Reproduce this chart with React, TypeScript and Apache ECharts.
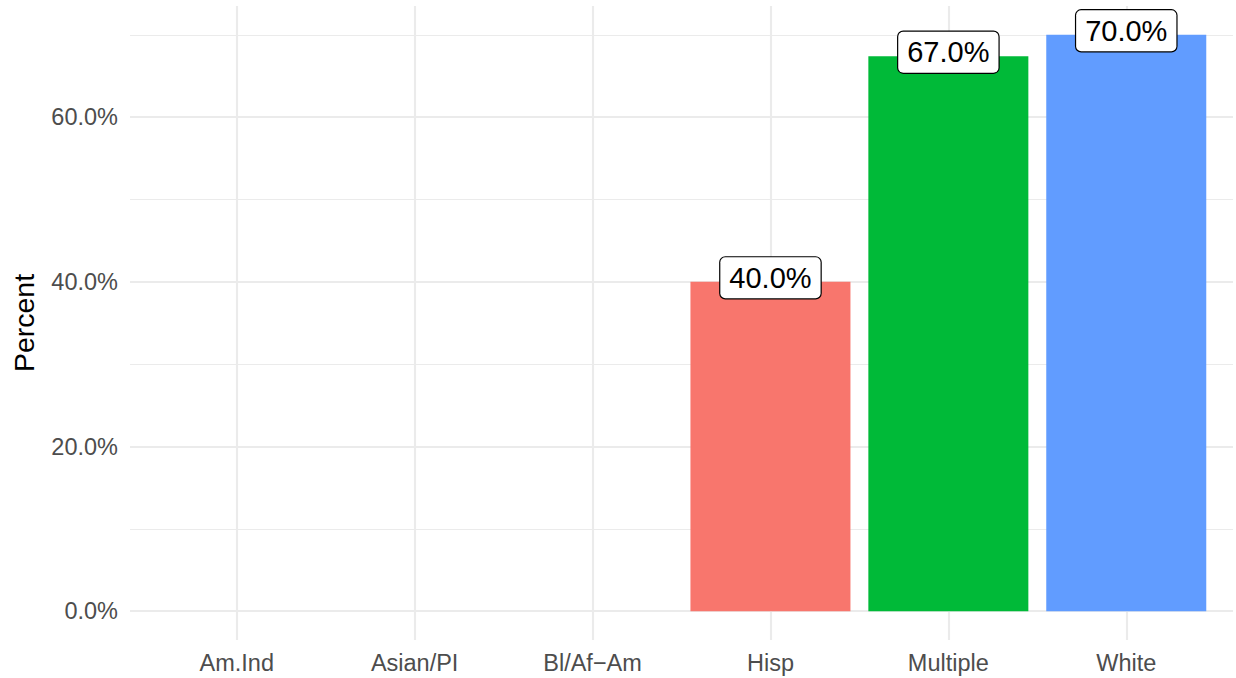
import React, { useEffect, useRef } from "react";
import * as echarts from "echarts";

const categories = ["Am.Ind", "Asian/PI", "Bl/Af\u2212Am", "Hisp", "Multiple", "White"];
const values: (number | null)[] = [null, null, null, 40, 67.4, 70];
const labelTexts = ["", "", "", "40.0%", "67.0%", "70.0%"];
const barColors = ["#F8766D", "#F8766D", "#F8766D", "#F8766D", "#00BA38", "#619CFF"];
const yTicks = [0, 20, 40, 60];
const yMinorTicks = [10, 30, 50, 70];

const FONT = "Liberation Sans, Arial, Helvetica, sans-serif";

export default function App() {
  const ref = useRef<HTMLDivElement>(null);
  useEffect(() => {
    document.body.style.margin = "0";
    const chart = echarts.init(ref.current!, null, { renderer: "svg" });
    const barData = categories
      .map((c, i) => ({ i, v: values[i] }))
      .filter((d) => d.v !== null)
      .map((d) => ({
        value: [d.i + 1, d.v],
        itemStyle: { color: barColors[d.i] },
        label: { formatter: labelTexts[d.i] },
      }));
    const gridLines = [
      ...categories.map((_, i) => ({ xAxis: i + 1, lineStyle: { width: 2.1 } })),
      ...yTicks.map((t) => ({ yAxis: t, lineStyle: { width: 2.1 } })),
      ...yMinorTicks.map((t) => ({ yAxis: t, lineStyle: { width: 1.07 } })),
    ];
    chart.setOption({
      animation: false,
      textStyle: { fontFamily: FONT },
      grid: {
        left: 130,
        right: 3,
        top: 6,
        height: 634,
        containLabel: false,
        outerBoundsMode: "none",
      },
      xAxis: {
        type: "value",
        min: 0.4,
        max: 6.6,
        axisLine: { show: false },
        axisTick: { show: false },
        splitLine: { show: false },
        axisLabel: {
          customValues: categories.map((_, i) => i + 1),
          formatter: (v: number) => categories[Math.round(v) - 1] ?? "",
          color: "#4D4D4D",
          fontSize: 23.5,
          fontFamily: FONT,
          margin: 11,
        },
      },
      yAxis: {
        type: "value",
        min: -3.5,
        max: 73.5,
        name: "Percent",
        nameLocation: "middle",
        nameRotate: 90,
        nameGap: 92,
        nameTextStyle: { color: "#000000", fontSize: 28.5, fontFamily: FONT },
        axisLine: { show: false },
        axisTick: { show: false },
        splitLine: { show: false },
        axisLabel: {
          customValues: yTicks,
          formatter: (v: number) => v.toFixed(1) + "%",
          color: "#4D4D4D",
          fontSize: 23.5,
          fontFamily: FONT,
          margin: 12,
        },
      },
      series: [
        {
          type: "line",
          data: [],
          z: 0,
          markLine: {
            silent: true,
            z: 0,
            symbol: "none",
            label: { show: false },
            lineStyle: { color: "#EBEBEB", type: "solid" },
            data: gridLines,
          },
        },
        {
          type: "bar",
          z: 3,
          barWidth: 160,
          data: barData,
          label: {
            show: true,
            position: "top",
            distance: -16.5,
            color: "#000000",
            fontSize: 29,
            fontFamily: FONT,
            lineHeight: 29,
            backgroundColor: "#FFFFFF",
            borderColor: "#000000",
            borderWidth: 1.2,
            borderRadius: 5,
            padding: [6, 9],
          },
        },
      ],
    });
    return () => chart.dispose();
  }, []);
  return <div ref={ref} style={{ width: 1236, height: 678 }} />;
}
